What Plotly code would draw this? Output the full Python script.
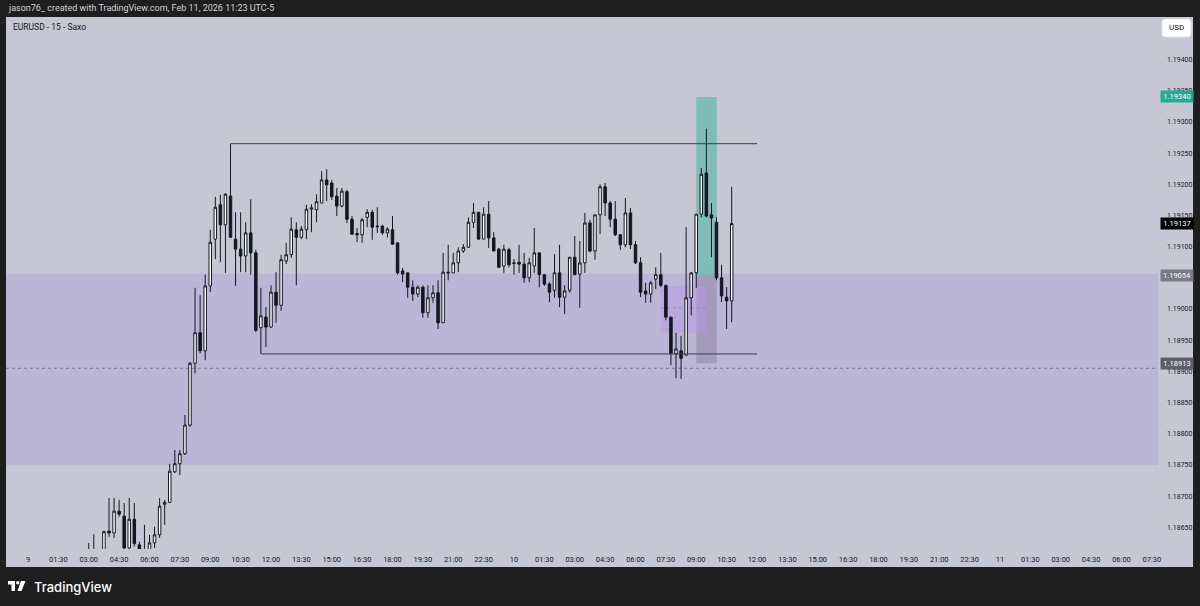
import plotly.graph_objects as go
import pandas as pd

# ---------------- data (EURUSD 15m) ----------------
start_time = "2026-02-09 03:00"
open_ = [1.18605, 1.18600, 1.18608, 1.18595, 1.18644, 1.18641, 1.18676, 1.18668, 1.18617, 1.18663,
         1.18622, 1.18605, 1.18605, 1.18625, 1.18638, 1.18687, 1.18690, 1.18739, 1.18752, 1.18768,
         1.18814, 1.18913, 1.18962, 1.18933, 1.19037, 1.19112, 1.19167, 1.19135, 1.19181, 1.19112,
         1.19096, 1.19085, 1.19122, 1.19090, 1.18970, 1.18987, 1.18971, 1.19027, 1.19006, 1.19077,
         1.19087, 1.19127, 1.19115, 1.19127, 1.19160, 1.19159, 1.19170, 1.19207, 1.19202, 1.19181,
         1.19165, 1.19188, 1.19144, 1.19121, 1.19119, 1.19147, 1.19155, 1.19133, 1.19133, 1.19122,
         1.19127, 1.19106, 1.19061, 1.19058, 1.19035, 1.19024, 1.19035, 1.18994, 1.19018, 1.19026,
         1.18978, 1.19059, 1.19058, 1.19074, 1.19093, 1.19099, 1.19139, 1.19155, 1.19112, 1.19152,
         1.19114, 1.19096, 1.19069, 1.19095, 1.19073, 1.19075, 1.19072, 1.19050, 1.19069, 1.19090,
         1.19055, 1.19040, 1.19030, 1.19058, 1.19019, 1.19030, 1.19083, 1.19056, 1.19074, 1.19138,
         1.19093, 1.19151, 1.19196, 1.19170, 1.19144, 1.19119, 1.19103, 1.19154, 1.19103, 1.19074,
         1.19029, 1.19024, 1.19048, 1.19055, 1.19038, 1.18987, 1.18928, 1.18933, 1.18926, 1.19018,
         1.19058, 1.19152, 1.19218, 1.19151, 1.19139, 1.19050, 1.19019, 1.19013]
high = [1.18625, 1.18639, 1.18610, 1.18645, 1.18697, 1.18697, 1.18694, 1.18689, 1.18697, 1.18689,
        1.18627, 1.18654, 1.18638, 1.18651, 1.18697, 1.18694, 1.18752, 1.18774, 1.18774, 1.18830,
        1.18915, 1.19034, 1.19022, 1.19055, 1.19127, 1.19180, 1.19183, 1.19186, 1.19265, 1.19155,
        1.19155, 1.19139, 1.19176, 1.19095, 1.19034, 1.19003, 1.19038, 1.19059, 1.19087, 1.19106,
        1.19147, 1.19139, 1.19133, 1.19167, 1.19168, 1.19184, 1.19221, 1.19224, 1.19207, 1.19194,
        1.19194, 1.19191, 1.19149, 1.19130, 1.19146, 1.19160, 1.19159, 1.19163, 1.19135, 1.19131,
        1.19149, 1.19107, 1.19066, 1.19058, 1.19046, 1.19038, 1.19038, 1.19038, 1.19038, 1.19046,
        1.19090, 1.19103, 1.19090, 1.19099, 1.19104, 1.19147, 1.19170, 1.19155, 1.19163, 1.19173,
        1.19123, 1.19098, 1.19103, 1.19098, 1.19080, 1.19103, 1.19090, 1.19082, 1.19130, 1.19090,
        1.19055, 1.19043, 1.19088, 1.19103, 1.19038, 1.19083, 1.19117, 1.19109, 1.19154, 1.19143,
        1.19151, 1.19200, 1.19202, 1.19173, 1.19173, 1.19120, 1.19178, 1.19162, 1.19109, 1.19083,
        1.19042, 1.19045, 1.19067, 1.19090, 1.19038, 1.18987, 1.18962, 1.18957, 1.19131, 1.19059,
        1.19152, 1.19226, 1.19289, 1.19170, 1.19147, 1.19071, 1.19035, 1.19196]
low = [1.18590, 1.18585, 1.18580, 1.18590, 1.18635, 1.18633, 1.18667, 1.18614, 1.18614, 1.18619,
       1.18600, 1.18595, 1.18600, 1.18617, 1.18633, 1.18654, 1.18689, 1.18737, 1.18734, 1.18766,
       1.18811, 1.18897, 1.18929, 1.18918, 1.19027, 1.19080, 1.19075, 1.19058, 1.19114, 1.19037,
       1.19059, 1.19059, 1.19055, 1.18963, 1.18928, 1.18939, 1.18970, 1.18978, 1.18997, 1.19072,
       1.19082, 1.19038, 1.19112, 1.19112, 1.19123, 1.19139, 1.19170, 1.19173, 1.19175, 1.19149,
       1.19163, 1.19138, 1.19119, 1.19107, 1.19106, 1.19131, 1.19111, 1.19122, 1.19119, 1.19115,
       1.19103, 1.19055, 1.19043, 1.19018, 1.19013, 1.19019, 1.18986, 1.18986, 1.19010, 1.18968,
       1.18978, 1.19046, 1.19058, 1.19059, 1.19090, 1.19098, 1.19130, 1.19112, 1.19112, 1.19098,
       1.19093, 1.19066, 1.19058, 1.19067, 1.19055, 1.19058, 1.19042, 1.19043, 1.19058, 1.19035,
       1.19037, 1.19011, 1.19018, 1.19003, 1.18992, 1.19026, 1.19055, 1.19002, 1.19058, 1.19091,
       1.19079, 1.19120, 1.19149, 1.19131, 1.19117, 1.19095, 1.19099, 1.19096, 1.19072, 1.19019,
       1.19010, 1.19010, 1.19032, 1.19035, 1.18982, 1.18910, 1.18889, 1.18888, 1.18926, 1.18990,
       1.19034, 1.19147, 1.19147, 1.19083, 1.19046, 1.19011, 1.18968, 1.18979]
close = [1.18598, 1.18608, 1.18595, 1.18643, 1.18641, 1.18676, 1.18671, 1.18617, 1.18663, 1.18624,
         1.18605, 1.18612, 1.18625, 1.18638, 1.18684, 1.18690, 1.18740, 1.18752, 1.18768, 1.18814,
         1.18913, 1.18962, 1.18933, 1.19037, 1.19107, 1.19163, 1.19135, 1.19184, 1.19115, 1.19096,
         1.19085, 1.19122, 1.19090, 1.18966, 1.18989, 1.18971, 1.19027, 1.19006, 1.19079, 1.19087,
         1.19128, 1.19115, 1.19128, 1.19160, 1.19162, 1.19172, 1.19207, 1.19199, 1.19180, 1.19165,
         1.19189, 1.19144, 1.19120, 1.19119, 1.19143, 1.19155, 1.19131, 1.19132, 1.19122, 1.19128,
         1.19104, 1.19058, 1.19056, 1.19035, 1.19024, 1.19035, 1.18994, 1.19018, 1.19026, 1.18978,
         1.19059, 1.19058, 1.19074, 1.19093, 1.19099, 1.19139, 1.19155, 1.19112, 1.19152, 1.19114,
         1.19093, 1.19067, 1.19096, 1.19071, 1.19074, 1.19072, 1.19050, 1.19074, 1.19090, 1.19055,
         1.19040, 1.19027, 1.19058, 1.19019, 1.19029, 1.19083, 1.19055, 1.19074, 1.19138, 1.19093,
         1.19151, 1.19196, 1.19170, 1.19144, 1.19119, 1.19103, 1.19154, 1.19103, 1.19074, 1.19027,
         1.19024, 1.19042, 1.19055, 1.19038, 1.18987, 1.18929, 1.18936, 1.18921, 1.19018, 1.19058,
         1.19152, 1.19216, 1.19149, 1.19146, 1.19050, 1.19021, 1.19013, 1.19137]

x_tick_text = ["9", "01:30", "03:00", "04:30", "06:00", "07:30", "09:00", "10:30", "12:00", "13:30",
               "15:00", "16:30", "18:00", "19:30", "21:00", "22:30",
               "10", "01:30", "03:00", "04:30", "06:00", "07:30", "09:00", "10:30", "12:00", "13:30",
               "15:00", "16:30", "18:00", "19:30", "21:00", "22:30",
               "11", "01:30", "03:00", "04:30", "06:00", "07:30"]
# 1.19050 sits behind the 1.19054 price label in the reference, so it is not listed
y_tick_vals = [1.18650, 1.18700, 1.18750, 1.18800, 1.18850, 1.18900, 1.18950, 1.19000,
               1.19100, 1.19150, 1.19200, 1.19250, 1.19300, 1.19350, 1.19400]
y_tick_text = ["1.18650", "1.18700", "1.18750", "1.18800", "1.18850", "1.18900", "1.18950", "1.19000",
               "1.19100", "1.19150", "1.19200", "1.19250", "1.19300", "1.19350", "1.19400"]

# drawing levels
range_high = 1.19265
range_low = 1.18928
zone_top = 1.19057
zone_bottom = 1.18750
target = 1.19340
entry = 1.19054
stop = 1.18913
last_price = 1.19137
dotted_level = 1.18905
fvg_top = 1.19037
fvg_bottom = 1.18962
fvg_mid = 1.19002

times = pd.date_range(start_time, periods=len(open_), freq="15min")
x_tick_vals = pd.date_range("2026-02-09 00:00", periods=len(x_tick_text), freq="90min")

# ---------------- geometry helpers (pixels -> paper) ----------------
W, H = 1200, 606
ML, MR, MT, MB = 6, 42, 17, 57
PW, PH = W - ML - MR, H - MT - MB


def px(x):
    return (x - ML) / PW


def py(y):
    return (H - MB - y) / PH


BG = "#c5c8d4"
DARK = "#1e1e1e"
INK = "#131722"

fig = go.Figure()
fig.add_trace(go.Candlestick(
    x=times, open=open_, high=high, low=low, close=close,
    increasing=dict(fillcolor="#ffffff", line=dict(color=INK, width=1)),
    decreasing=dict(fillcolor=INK, line=dict(color=INK, width=1)),
    whiskerwidth=0, showlegend=False, hoverinfo="skip",
))

shapes = []
# chart panel background
shapes.append(dict(type="rect", xref="paper", yref="paper", x0=px(6), x1=px(1193), y0=py(567), y1=py(17),
                   fillcolor=BG, line=dict(width=0), layer="below"))
# purple zone
shapes.append(dict(type="rect", xref="paper", yref="y", x0=0, x1=1, y0=zone_bottom, y1=zone_top,
                   fillcolor="#bbb5d6", line=dict(width=0), layer="below"))
# dotted level
shapes.append(dict(type="line", xref="paper", yref="y", x0=0, x1=1, y0=dotted_level, y1=dotted_level,
                   line=dict(color="#7a7d8a", width=1, dash="dot"), layer="below"))
# position tool
shapes.append(dict(type="rect", xref="x", yref="y", x0="2026-02-10 09:00", x1="2026-02-10 10:01",
                   y0=entry, y1=target, fillcolor="rgba(34,171,148,0.42)", line=dict(width=0), layer="below"))
shapes.append(dict(type="rect", xref="x", yref="y", x0="2026-02-10 09:00", x1="2026-02-10 10:01",
                   y0=stop, y1=entry, fillcolor="rgba(135,125,150,0.45)", line=dict(width=0), layer="below"))
# small lilac box
shapes.append(dict(type="rect", xref="x", yref="y", x0="2026-02-10 07:15", x1="2026-02-10 09:28",
                   y0=fvg_bottom, y1=fvg_top, fillcolor="rgba(185,150,235,0.45)", line=dict(width=0), layer="below"))
shapes.append(dict(type="line", xref="x", yref="y", x0="2026-02-10 07:15", x1="2026-02-10 09:28",
                   y0=fvg_mid, y1=fvg_mid, line=dict(color="#9a8cc0", width=1, dash="dot"), layer="below"))
# range lines
shapes.append(dict(type="line", xref="x", yref="y", x0="2026-02-09 10:00", x1="2026-02-10 12:00",
                   y0=range_high, y1=range_high, line=dict(color="#3a3d45", width=1)))
shapes.append(dict(type="line", xref="x", yref="y", x0="2026-02-09 11:30", x1="2026-02-10 12:00",
                   y0=range_low, y1=range_low, line=dict(color="#3a3d45", width=1)))
# USD button (rounded)
bx0, bx1, by0, by1, r = 1162, 1191, 19, 37, 3
shapes.append(dict(type="path", xref="paper", yref="paper",
                   path=(f"M{px(bx0 + r)},{py(by0)} L{px(bx1 - r)},{py(by0)} Q{px(bx1)},{py(by0)} {px(bx1)},{py(by0 + r)} "
                         f"L{px(bx1)},{py(by1 - r)} Q{px(bx1)},{py(by1)} {px(bx1 - r)},{py(by1)} "
                         f"L{px(bx0 + r)},{py(by1)} Q{px(bx0)},{py(by1)} {px(bx0)},{py(by1 - r)} "
                         f"L{px(bx0)},{py(by0 + r)} Q{px(bx0)},{py(by0)} {px(bx0 + r)},{py(by0)} Z"),
                   fillcolor="#ffffff", line=dict(color="#e0e3eb", width=1)))
# TradingView logo
shapes.append(dict(type="path", xref="paper", yref="paper",
                   path=f"M{px(8)},{py(581)} L{px(15)},{py(581)} L{px(15)},{py(591)} L{px(11.5)},{py(591)} "
                        f"L{px(11.5)},{py(584.5)} L{px(8)},{py(584.5)} Z",
                   fillcolor="#ffffff", line=dict(width=0)))
shapes.append(dict(type="circle", xref="paper", yref="paper", x0=px(16), x1=px(19.5), y0=py(584.5), y1=py(581),
                   fillcolor="#ffffff", line=dict(width=0)))
shapes.append(dict(type="path", xref="paper", yref="paper",
                   path=f"M{px(21)},{py(581)} L{px(25.5)},{py(581)} L{px(21.5)},{py(591)} L{px(17.5)},{py(591)} Z",
                   fillcolor="#ffffff", line=dict(width=0)))

annotations = []
annotations.append(dict(xref="paper", yref="paper", x=px(6), y=py(8), xanchor="left", yanchor="middle",
                        text="jason76_ created with TradingView.com, Feb 11, 2026 11:23 UTC-5",
                        showarrow=False, font=dict(family="Roboto", size=9, color="#d1d4dc")))
annotations.append(dict(xref="paper", yref="paper", x=px(11), y=py(27), xanchor="left", yanchor="middle",
                        text="EURUSD - 15 - Saxo", showarrow=False,
                        font=dict(family="Roboto", size=8.5, color=INK)))
annotations.append(dict(xref="paper", yref="paper", x=px(1176.5), y=py(28), xanchor="center", yanchor="middle",
                        text="USD", showarrow=False, font=dict(family="Roboto", size=8, color=INK)))
annotations.append(dict(xref="paper", yref="paper", x=px(32), y=py(586.5), xanchor="left", yanchor="middle",
                        text="TradingView", showarrow=False,
                        font=dict(family="Inter", size=13, color="#ffffff", weight=500)))

for val, col in [(target, "#22ab94"), (last_price, "#000000"), (entry, "#787b86"), (stop, "#5d606b")]:
    annotations.append(dict(xref="paper", yref="y", x=1, y=val, xanchor="left", yanchor="middle", xshift=2,
                            text=f"{val:.5f}", showarrow=False, bgcolor=col, width=30, height=9, borderpad=1,
                            font=dict(family="Roboto", size=7.5, color="#ffffff")))

fig.update_layout(
    width=W, height=H,
    margin=dict(l=ML, r=MR, t=MT, b=MB, pad=0),
    paper_bgcolor=DARK, plot_bgcolor=BG,
    shapes=shapes, annotations=annotations,
    showlegend=False,
    xaxis=dict(
        type="date",
        range=["2026-02-08 22:54:49", "2026-02-11 07:48:09"],
        tickmode="array", tickvals=x_tick_vals, ticktext=x_tick_text,
        showgrid=False, zeroline=False, showline=False, ticks="",
        tickfont=dict(family="Roboto", size=7.5, color=INK),
        ticklabelstandoff=4,
        rangeslider=dict(visible=False), automargin=False, fixedrange=True,
    ),
    yaxis=dict(
        side="right",
        range=[1.186153, 1.194681],
        tickmode="array", tickvals=y_tick_vals, ticktext=y_tick_text,
        showgrid=False, zeroline=False, showline=False, ticks="",
        tickfont=dict(family="Roboto", size=7, color=INK),
        ticklabelstandoff=8, automargin=False, fixedrange=True,
    ),
)

fig.write_html(
    "out.html",
    config={"displayModeBar": False},
    post_script="document.body.style.margin='0';document.body.style.padding='0';"
                "document.body.style.overflow='hidden';document.body.style.background='#1e1e1e';",
)
